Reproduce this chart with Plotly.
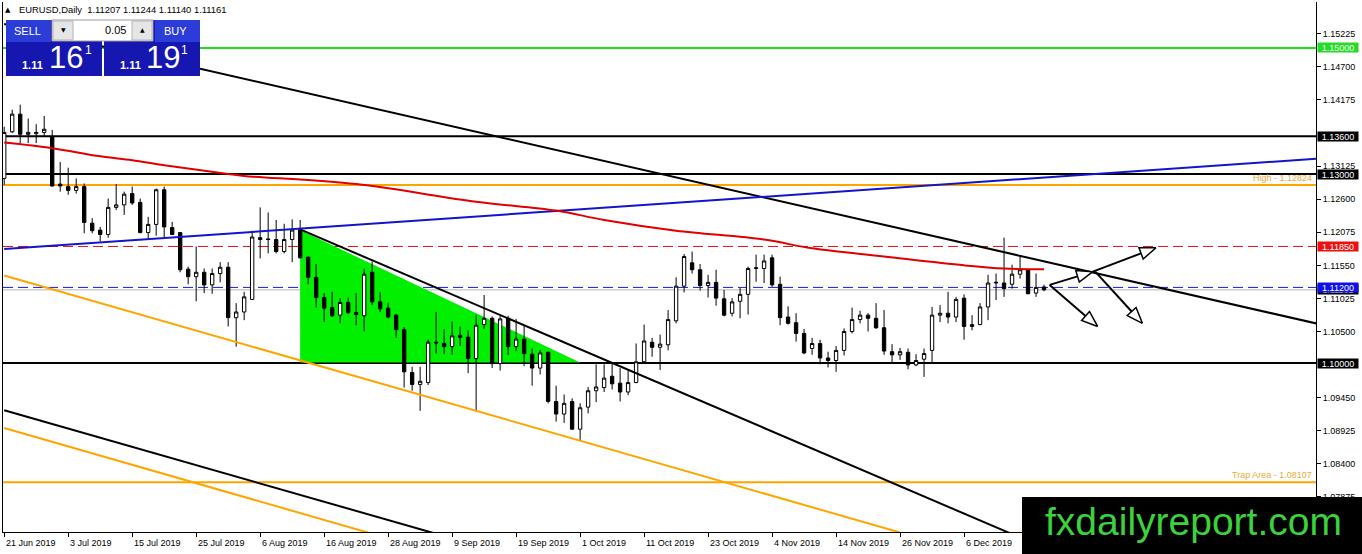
import plotly.graph_objects as go

# EURUSD daily candles, 21 Jun 2019 .. 20 Dec 2019
opens = [1.1293, 1.1367, 1.1395, 1.1363, 1.1364, 1.1366, 1.1359, 1.1284, 1.1280, 1.1274,
         1.1280, 1.1222, 1.1211, 1.1204, 1.1247, 1.1251, 1.1269, 1.1255, 1.1207, 1.1220,
         1.1275, 1.1215, 1.1207, 1.1149, 1.1137, 1.1144, 1.1124, 1.1142, 1.1152, 1.1072,
         1.1081, 1.1101, 1.1199, 1.1197, 1.1196, 1.1177, 1.1196, 1.1212, 1.1168, 1.1136,
         1.1104, 1.1088, 1.1076, 1.1096, 1.1080, 1.1075, 1.1144, 1.1097, 1.1087, 1.1076,
         1.1053, 1.0985, 1.0966, 1.0969, 1.1033, 1.1031, 1.1026, 1.1044, 1.1041, 1.1007,
         1.1061, 1.1071, 1.0999, 1.1071, 1.1026, 1.1038, 1.1014, 1.0992, 1.1017, 1.0939,
         1.0919, 1.0939, 1.0895, 1.0930, 1.0956, 1.0961, 1.0979, 1.0968, 1.0954, 1.0969,
         1.1002, 1.1033, 1.1025, 1.1029, 1.1067, 1.1122, 1.1159, 1.1148, 1.1123, 1.1128,
         1.1102, 1.1079, 1.1098, 1.1109, 1.1150, 1.1150, 1.1167, 1.1125, 1.1073, 1.1064,
         1.1047, 1.1023, 1.1031, 1.1008, 1.1004, 1.1020, 1.1050, 1.1069, 1.1076, 1.1071,
         1.1056, 1.1018, 1.1013, 1.1017, 1.0997, 1.1006, 1.1020, 1.1076, 1.1079, 1.1073,
         1.1103, 1.1058, 1.1061, 1.1089, 1.1127, 1.1127, 1.1125, 1.1141, 1.1148, 1.1111,
         1.11207]
highs = [1.1375, 1.1402, 1.1410, 1.1388, 1.1379, 1.1392, 1.1370, 1.1319, 1.1310, 1.1293,
         1.1285, 1.1230, 1.1216, 1.1261, 1.1284, 1.1272, 1.1280, 1.1261, 1.1232, 1.1277,
         1.1280, 1.1224, 1.1208, 1.1153, 1.1185, 1.1150, 1.1150, 1.1160, 1.1160, 1.1095,
         1.1113, 1.1210, 1.1247, 1.1239, 1.1227, 1.1221, 1.1228, 1.1227, 1.1169, 1.1157,
         1.1111, 1.1113, 1.1103, 1.1104, 1.1111, 1.1150, 1.1161, 1.1113, 1.1096, 1.1078,
         1.1057, 1.0994, 1.0994, 1.1037, 1.1081, 1.1054, 1.1066, 1.1058, 1.1052, 1.1076,
         1.1108, 1.1074, 1.1075, 1.1075, 1.1070, 1.1059, 1.1023, 1.1021, 1.1018, 1.0964,
         1.0950, 1.0944, 1.0936, 1.0962, 1.0998, 1.0998, 1.0999, 1.0992, 1.0989, 1.1031,
         1.1061, 1.1040, 1.1045, 1.1084, 1.1136, 1.1173, 1.1177, 1.1157, 1.1140, 1.1148,
         1.1116, 1.1103, 1.1119, 1.1153, 1.1172, 1.1172, 1.1172, 1.1137, 1.1090, 1.1079,
         1.1054, 1.1040, 1.1037, 1.1018, 1.1027, 1.1055, 1.1088, 1.1083, 1.1079, 1.1095,
         1.1084, 1.1030, 1.1024, 1.1023, 1.1014, 1.1023, 1.1089, 1.1092, 1.1113, 1.1105,
         1.1109, 1.1076, 1.1095, 1.1140, 1.1142, 1.1199, 1.1156, 1.1171, 1.1149, 1.1142,
         1.11244]
lows = [1.1283, 1.1365, 1.1349, 1.1349, 1.1349, 1.1359, 1.1280, 1.1272, 1.1267, 1.1269,
        1.1206, 1.1206, 1.1193, 1.1199, 1.1243, 1.1235, 1.1251, 1.1206, 1.1197, 1.1202,
        1.1200, 1.1203, 1.1144, 1.1125, 1.1098, 1.1111, 1.1110, 1.1128, 1.1058, 1.1026,
        1.1068, 1.1100, 1.1166, 1.1174, 1.1174, 1.1174, 1.1160, 1.1166, 1.1125, 1.1088,
        1.1065, 1.1073, 1.1063, 1.1078, 1.1060, 1.1050, 1.1092, 1.1081, 1.1071, 1.1040,
        1.0961, 1.0956, 1.0924, 1.0965, 1.1015, 1.1014, 1.1013, 1.1027, 1.0984, 1.0923,
        1.1054, 1.0992, 1.0988, 1.1013, 1.1019, 1.0995, 1.0964, 1.0982, 1.0936, 1.0907,
        1.0905, 1.0894, 1.0878, 1.0920, 1.0938, 1.0954, 1.0958, 1.0939, 1.0949, 1.0968,
        1.0999, 1.1010, 1.0989, 1.1020, 1.1063, 1.1112, 1.1142, 1.1115, 1.1104, 1.1091,
        1.1074, 1.1074, 1.1071, 1.1077, 1.1129, 1.1127, 1.1121, 1.1060, 1.1061, 1.1034,
        1.1014, 1.1013, 1.0998, 1.0993, 1.0986, 1.1012, 1.1047, 1.1063, 1.1050, 1.1054,
        1.1013, 1.1000, 1.1005, 1.0990, 1.0995, 1.0978, 1.0999, 1.1065, 1.1063, 1.1065,
        1.1037, 1.1052, 1.1060, 1.1068, 1.1100, 1.1105, 1.1118, 1.1134, 1.1109, 1.1105,
        1.11140]
closes = [1.1366, 1.1395, 1.1363, 1.1366, 1.1366, 1.1371, 1.1281, 1.1281, 1.1274, 1.1280,
          1.1223, 1.1210, 1.1204, 1.1247, 1.1251, 1.1268, 1.1254, 1.1207, 1.1220, 1.1275,
          1.1216, 1.1204, 1.1148, 1.1137, 1.1144, 1.1124, 1.1142, 1.1152, 1.1072, 1.1081,
          1.1105, 1.1200, 1.1196, 1.1196, 1.1177, 1.1196, 1.1211, 1.1167, 1.1136, 1.1104,
          1.1087, 1.1075, 1.1096, 1.1080, 1.1077, 1.1141, 1.1097, 1.1086, 1.1073, 1.1053,
          1.0986, 1.0966, 1.0971, 1.1033, 1.1032, 1.1026, 1.1043, 1.1041, 1.1007, 1.1060,
          1.1071, 1.0999, 1.1070, 1.1026, 1.1038, 1.1015, 1.0992, 1.1016, 1.0939, 1.0919,
          1.0936, 1.0895, 1.0929, 1.0956, 1.0962, 1.0976, 1.0967, 1.0954, 1.0969, 1.1002,
          1.1035, 1.1025, 1.1030, 1.1069, 1.1122, 1.1169, 1.1148, 1.1123, 1.1128, 1.1103,
          1.1076, 1.1097, 1.1109, 1.1150, 1.1151, 1.1162, 1.1124, 1.1072, 1.1063, 1.1047,
          1.1016, 1.1031, 1.1008, 1.1004, 1.1020, 1.1050, 1.1069, 1.1076, 1.1071, 1.1056,
          1.1019, 1.1013, 1.1018, 1.0997, 1.1004, 1.1015, 1.1076, 1.1079, 1.1073, 1.1101,
          1.1058, 1.1061, 1.1089, 1.1127, 1.1128, 1.1118, 1.1141, 1.1148, 1.1110, 1.1120,
          1.11161]
bar_idx = list(range(len(opens)))

date_ticks = [0, 8, 16, 24, 32, 40, 48, 56, 64, 72, 80, 88, 96, 104, 112, 120]
date_labels = ['21 Jun 2019', '3 Jul 2019', '15 Jul 2019', '25 Jul 2019', '6 Aug 2019',
               '16 Aug 2019', '28 Aug 2019', '9 Sep 2019', '19 Sep 2019', '1 Oct 2019',
               '11 Oct 2019', '23 Oct 2019', '4 Nov 2019', '14 Nov 2019', '26 Nov 2019',
               '6 Dec 2019']
price_ticks = [1.15225, 1.14700, 1.14175, 1.13125, 1.12600, 1.12075, 1.11550,
               1.11025, 1.10500, 1.09450, 1.08925, 1.08400, 1.07875]

# moving average (red), sampled along the line
ma_bars = [0, 6, 12, 16, 20, 28, 30, 44, 59, 69, 75, 84, 95, 101, 110, 120, 125, 130]
ma_vals = [1.1350, 1.1341, 1.1328, 1.1322, 1.1314, 1.1300, 1.1297, 1.1284, 1.1256, 1.1242,
           1.1227, 1.1210, 1.1196, 1.1182, 1.1169, 1.1155, 1.1150, 1.1149]

# drawn trend lines: (bars, prices)
resist_bars, resist_vals = [0, 165], [1.1538, 1.1060]
wedge_bars, wedge_vals = [37, 127], [1.1212, 1.0723]
blue_bars, blue_vals = [0, 165], [1.1181, 1.1325]
chan_bars, chan_vals = [0, 112], [1.1139, 1.0731]
low_black_bars, low_black_vals = [0, 54], [1.0925, 1.0729]
low_orange_bars, low_orange_vals = [0, 46], [1.0897, 1.0729]

# green triangle
tri_bars = [37, 37, 72]
tri_vals = [1.1211, 1.1001, 1.1001]

# forecast arrows: start bar, start price, end bar, end price
arrows = [(130.7, 1.1124, 136.1, 1.1145),
          (136.1, 1.1145, 144.0, 1.1183),
          (130.7, 1.1124, 136.7, 1.1058),
          (136.4, 1.1145, 142.3, 1.1063)]

# horizontal levels
levels = [1.15000, 1.13600, 1.13000, 1.12824, 1.11850, 1.11200, 1.11161, 1.10000, 1.08107]
level_colors = ['#1ee01e', 'black', 'black', '#ffa500', '#e01010', '#1a1ae0', '#b4b4b4', 'black', '#ffa500']
level_dash = ['solid', 'solid', 'solid', 'solid', '10px,5px', '10px,5px', 'solid', 'solid', 'solid']
level_width = [2, 2, 2, 2, 1, 1, 1, 2, 2]
# axis price boxes (bid box first so the blue one sits on top)
box_prices = [1.15000, 1.13600, 1.13000, 1.11850, 1.11161, 1.11200, 1.10000]
box_colors = ['#22dd22', 'black', 'black', '#ee1010', 'black', '#1010e8', 'black']

X_RANGE = [-0.15, 164.0]
Y_RANGE = [1.07318, 1.15730]
XS = 1313 / (X_RANGE[1] - X_RANGE[0])   # px per bar
YS = 530 / (Y_RANGE[1] - Y_RANGE[0])    # px per price unit


def px(x):
    return (x - 3) / 1313


def py(y):
    return (532 - y) / 530


fig = go.Figure()

for bx, by, col in [(chan_bars, chan_vals, '#ffa500'), (low_orange_bars, low_orange_vals, '#ffa500'),
                    (low_black_bars, low_black_vals, 'black'), (resist_bars, resist_vals, 'black'),
                    (wedge_bars, wedge_vals, 'black'), (blue_bars, blue_vals, '#1414c8')]:
    fig.add_trace(go.Scatter(x=bx, y=by, mode='lines', line=dict(color=col, width=2),
                             hoverinfo='skip'))

fig.add_trace(go.Candlestick(
    x=bar_idx, open=opens, high=highs, low=lows, close=closes,
    increasing=dict(line=dict(color='black', width=1), fillcolor='white'),
    decreasing=dict(line=dict(color='black', width=1), fillcolor='black'),
    whiskerwidth=0,
))

fig.add_trace(go.Scatter(x=ma_bars, y=ma_vals, mode='lines', line=dict(color='#e00000', width=2),
                         line_shape='spline', hoverinfo='skip'))

# arrows with hollow heads
for x0, y0, x1, y1 in arrows:
    dx, dy = (x1 - x0) * XS, (y1 - y0) * YS
    d = (dx * dx + dy * dy) ** 0.5
    ux, uy = dx / d, dy / d
    tx, ty = x1 * XS, y1 * YS
    bxp, byp = tx - ux * 16, ty - uy * 16
    nx, ny = -uy, ux
    hx = [tx, bxp + nx * 6, bxp - nx * 6, tx]
    hy = [ty, byp + ny * 6, byp - ny * 6, ty]
    fig.add_trace(go.Scatter(x=[x0, bxp / XS], y=[y0, byp / YS], mode='lines',
                             line=dict(color='black', width=2), hoverinfo='skip'))
    fig.add_trace(go.Scatter(x=[v / XS for v in hx], y=[v / YS for v in hy], mode='lines',
                             fill='toself', fillcolor='white', line=dict(color='black', width=1.5),
                             hoverinfo='skip'))

# green triangle sits behind the candles
tri_path = 'M ' + ' L '.join('%s,%s' % (b, v) for b, v in zip(tri_bars, tri_vals)) + ' Z'
shapes = [dict(type='path', xref='x', yref='y', path=tri_path, fillcolor='#00f000',
               line=dict(width=0), layer='below')]
for lv, col, dsh, w in zip(levels, level_colors, level_dash, level_width):
    shapes.append(dict(type='line', xref='paper', x0=0, x1=1, yref='y', y0=lv, y1=lv,
                       line=dict(color=col, width=w, dash=dsh), layer='below'))


def rect(x0, y0, x1, y1, fill, line=None):
    shapes.append(dict(type='rect', xref='paper', yref='paper', x0=px(x0), x1=px(x1),
                       y0=py(y1), y1=py(y0), fillcolor=fill, layer='above',
                       line=dict(width=1 if line else 0, color=line or fill)))


# one-click trading panel
rect(6, 20, 102, 76, '#1616b0')
rect(104, 20, 200, 76, '#1616b0')
rect(6, 20, 51, 42, '#2c3cd8')
rect(155, 20, 200, 42, '#2c3cd8')
rect(52, 20, 153, 41, 'white', '#9a9a9a')
rect(53, 21, 73, 40, '#e6e6e6', '#b4b4b4')
rect(132, 21, 152, 40, '#e6e6e6', '#b4b4b4')
# watermark box
rect(1022, 497, 1362, 554, 'black')

ann = []


def text(x, y, s, size, color='white', anchor='center', bold=False, family='Liberation Sans'):
    ann.append(dict(xref='paper', yref='paper', x=px(x), y=py(y), text='<b>%s</b>' % s if bold else s,
                    showarrow=False, xanchor=anchor, yanchor='middle',
                    font=dict(family=family, size=size, color=color)))


text(8, 10, '▲', 7, 'black', 'center', family='DejaVu Sans')
text(17, 10, 'EURUSD,Daily  1.11207 1.11244 1.11140 1.11161', 9.4, 'black', 'left')
text(27, 31, 'SELL', 11)
text(175, 31, 'BUY', 11)
text(128, 30, '0.05', 11, 'black', 'right')
text(63, 30, '▼', 6, 'black', family='DejaVu Sans')
text(142, 30, '▲', 6, 'black', family='DejaVu Sans')
text(32, 65, '1.11', 11, bold=True)
text(66, 58, '16', 31)
text(88, 50, '1', 12)
text(130, 65, '1.11', 11, bold=True)
text(163, 58, '19', 31)
text(184, 50, '1', 12)
text(1193, 521, 'fxdailyreport.com', 39, '#3cd23c')

# descriptions on the orange levels
for lv, label in [(1.12824, 'High - 1.12824'), (1.08107, 'Trap Area - 1.08107')]:
    ann.append(dict(xref='paper', x=1, xanchor='right', xshift=-2, yref='y', y=lv, yanchor='bottom',
                    yshift=0, text=label, showarrow=False,
                    font=dict(family='Liberation Sans', size=9, color='#f0a838')))

# price boxes on the axis
for bp, bc in zip(box_prices, box_colors):
    ann.append(dict(xref='paper', x=1, xanchor='left', xshift=1, yref='y', y=bp, yanchor='middle',
                    text='%.5f' % bp, showarrow=False, bgcolor=bc, width=40, height=9, borderpad=0,
                    font=dict(family='Liberation Sans', size=9, color='white')))

# date labels, left aligned at their ticks like MT4
for t, lab in zip(date_ticks, date_labels):
    ann.append(dict(xref='x', x=t, xanchor='left', yref='paper', y=0, yanchor='top', yshift=-4,
                    text=lab, showarrow=False,
                    font=dict(family='Liberation Sans', size=9, color='black')))

fig.update_layout(
    width=1362, height=554,
    margin=dict(l=3, r=46, t=2, b=22),
    plot_bgcolor='white', paper_bgcolor='white',
    showlegend=False,
    boxgap=0.4,
    shapes=shapes,
    annotations=ann,
    xaxis=dict(range=X_RANGE, rangeslider=dict(visible=False), showgrid=False, zeroline=False,
               showline=True, linecolor='black', linewidth=1, ticks='outside', ticklen=4,
               tickcolor='black', tickvals=date_ticks, showticklabels=False, fixedrange=True),
    yaxis=dict(range=Y_RANGE, side='right', showgrid=False, zeroline=False, showline=True,
               mirror=True, linecolor='black', linewidth=1, ticks='outside', ticklen=4,
               tickcolor='black', tickvals=price_ticks, tickformat='.5f',
               tickfont=dict(family='Liberation Sans', size=9, color='black'), fixedrange=True),
)

fig.write_html('out.html', config={'displayModeBar': False},
               post_script="document.body.style.margin='0';document.body.style.overflow='hidden';")
